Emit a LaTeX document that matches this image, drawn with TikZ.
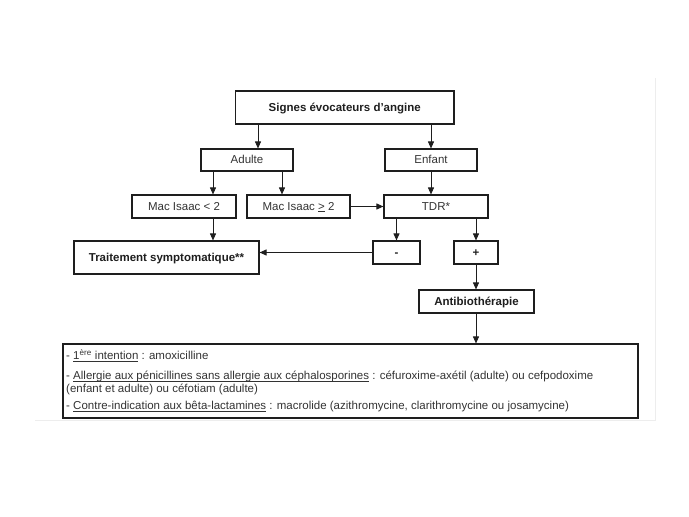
\documentclass[tikz,border=0pt]{standalone}
\usepackage{fontspec}
\setmainfont{Liberation Sans}
\usetikzlibrary{arrows.meta}
\definecolor{ink}{HTML}{1E1E1E}
\definecolor{txt}{HTML}{333333}
\definecolor{frame}{HTML}{EDEDED}
\newcommand\myul[1]{\setbox0\hbox{#1}\rlap{\rule[-1.6pt]{\wd0}{0.55pt}}\box0\relax}
\begin{document}
\begin{tikzpicture}[x=1pt,y=-1pt,
  box/.style={draw=ink,line width=1.1pt,rectangle,inner sep=0pt,text=txt,
    text height=9pt,text depth=2pt,
    font=\fontsize{11.5}{13}\selectfont},
  bbox/.style={box,text=ink,font=\fontsize{11.5}{13}\selectfont\bfseries},
  arr/.style={draw=ink,line width=0.9pt,-{Triangle[length=7pt,width=6pt]}},
  tline/.style={anchor=west,inner sep=0pt,text=txt,text height=9pt,text depth=2pt,
    font=\fontsize{11.5}{13}\selectfont}]
\useasboundingbox (0,0) rectangle (689,517);
\draw[frame,line width=0.8pt] (655,78) -- (655,420) -- (35,420);

\node[bbox,minimum width=218.5pt,minimum height=33pt] (top) at (344.75,107.5) {Signes évocateurs d’angine};
\node[box,minimum width=92pt,minimum height=22pt] (adulte) at (247,160) {Adulte};
\node[box,minimum width=92pt,minimum height=22pt] (enfant) at (431,160) {Enfant};
\node[box,minimum width=104pt,minimum height=23pt] (mac1) at (184,206.5) {Mac Isaac < 2};
\node[box,minimum width=103pt,minimum height=23pt] (mac2) at (298.5,206.5) {Mac Isaac \myul{>} 2};
\node[box,minimum width=104pt,minimum height=23pt] (tdr) at (436,206.5) {TDR*};
\node[bbox,minimum width=185pt,minimum height=33pt] (trait) at (166.5,257.5) {Traitement symptomatique**};
\node[bbox,minimum width=47pt,minimum height=23pt] (minus) at (396.5,252.5) {-};
\node[bbox,minimum width=44pt,minimum height=23pt] (plus) at (476,252.5) {+};
\node[bbox,minimum width=115pt,minimum height=23pt] (antibio) at (476.5,301.5) {Antibiothérapie};
\node[box,minimum width=575pt,minimum height=74pt] (bottom) at (350.5,381) {};

\node[tline] (l1) at (66,356) {- \myul{1\textsuperscript{ère} intention} : amoxicilline};
\node[tline] (l2) at (66,376) {- \myul{Allergie aux pénicillines sans allergie aux céphalosporines} : céfuroxime-axétil (adulte) ou cefpodoxime};
\node[tline] (l3) at (66,389) {(enfant et adulte) ou céfotiam (adulte)};
\node[tline] (l4) at (66,406) {- \myul{Contre-indication aux bêta-lactamines} : macrolide (azithromycine, clarithromycine ou josamycine)};

\coordinate (xa) at (258,0);
\coordinate (xb) at (431,0);
\coordinate (xc) at (213,0);
\coordinate (xd) at (282,0);
\coordinate (xe) at (396.5,0);
\coordinate (xf) at (476,0);

\draw[arr] (top.south -| xa) -- (adulte.north -| xa);
\draw[arr] (top.south -| xb) -- (enfant.north -| xb);
\draw[arr] (adulte.south -| xc) -- (mac1.north -| xc);
\draw[arr] (adulte.south -| xd) -- (mac2.north -| xd);
\draw[arr] (enfant.south -| xb) -- (tdr.north -| xb);
\draw[arr] (mac2.east) -- (tdr.west);
\draw[arr] (mac1.south -| xc) -- (trait.north -| xc);
\draw[arr] (tdr.south -| xe) -- (minus.north -| xe);
\draw[arr] (tdr.south -| xf) -- (plus.north -| xf);
\draw[arr] (minus.west) -- (minus.west -| trait.east);
\draw[arr] (plus.south -| xf) -- (antibio.north -| xf);
\draw[arr] (antibio.south -| xf) -- (bottom.north -| xf);
\end{tikzpicture}
\end{document}
